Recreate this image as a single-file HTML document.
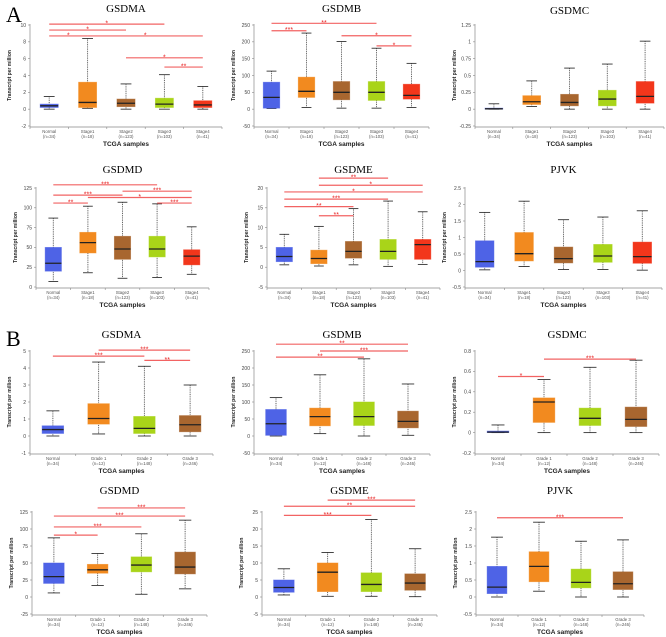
<!DOCTYPE html>
<html><head><meta charset="utf-8"><style>
html,body{margin:0;padding:0;background:#fff;}
svg{display:block;font-family:"Liberation Sans",sans-serif;}
</style></head><body>
<svg id="fig" width="666" height="637" viewBox="0 0 666 637" xmlns="http://www.w3.org/2000/svg">
<text x="6" y="22" font-family="Liberation Serif,serif" font-size="22">A</text>
<text x="6" y="346" font-family="Liberation Serif,serif" font-size="22">B</text>
</svg>
<script>
// categories
const stageCats = ["Normal","Stage1","Stage2","Stage3","Stage4"];
const stageN = ["(n=34)","(n=18)","(n=123)","(n=103)","(n=41)"];
const gradeCats = ["Normal","Grade 1","Grade 2","Grade 3"];
const gradeN = ["(n=34)","(n=12)","(n=148)","(n=246)"];
const stageColors = ["#4e63e6","#f28a1f","#a8662f","#a9d419","#f2361b"];
const gradeColors = ["#4e63e6","#f28a1f","#a9d419","#a8662f"];

// box stats: [min, q1, median, q3, max]
const aGSDMA = [[0,0.2,0.4,0.6,1.5],[0.1,0.2,0.8,3.2,8.4],[0,0.3,0.7,1.2,3.0],[0,0.2,0.6,1.3,4.1],[0,0.2,0.5,1.0,2.7]];
const aGSDMB = [[2,3,35,80,113],[5,35,53,95,226],[3,28,50,82,201],[3,26,50,82,181],[5,30,41,74,136]];
const aGSDMC = [[0,0,0.005,0.015,0.08],[0.04,0.07,0.11,0.2,0.42],[0,0.05,0.1,0.22,0.61],[0,0.05,0.15,0.28,0.67],[0,0.09,0.19,0.41,1.01]];
const aGSDMD = [[7,20,30,50,87],[18,43,56,69,102],[11,35,48,64,107],[12,38,48,64,105],[16,28,39,47,76]];
const aGSDME = [[0.6,1.4,2.7,5,8.3],[0.3,0.9,2.2,4.3,10.3],[0.6,2.3,4,6.5,14.8],[0.2,2,4,7,16.7],[0.7,2,5.7,7,14]];
const aPJVK = [[0.02,0.1,0.27,0.9,1.76],[0.12,0.29,0.51,1.15,2.1],[0.03,0.23,0.36,0.71,1.54],[0.03,0.25,0.44,0.79,1.62],[0.01,0.22,0.42,0.86,1.81]];
const bGSDMA = [[0,0.15,0.38,0.6,1.48],[0.12,0.7,1.03,1.9,4.35],[0,0.15,0.45,1.15,4.1],[0,0.25,0.66,1.2,3.0]];
const bGSDMB = [[0,2,36,78,113],[7,30,57,82,180],[0,31,57,100,227],[2,24,43,73,153]];
const bGSDMC = [[0,0,0.005,0.015,0.075],[0,0.1,0.3,0.34,0.52],[0,0.07,0.14,0.24,0.64],[0,0.06,0.13,0.25,0.71]];
const bGSDMD = [[6,20,30,50,87],[17,35,40,48,64],[4,37,47,59,93],[12,34,44,66,113]];
const bGSDME = [[0.6,1.4,2.8,5,8.3],[0.2,1.6,7.3,10,13.1],[0.2,1.6,3.7,7.1,22.8],[0.1,2,4.1,6.8,14.2]];
const bPJVK = [[0,0.1,0.29,0.9,1.76],[0.17,0.45,0.9,1.33,2.2],[0,0.27,0.43,0.82,1.64],[0,0.22,0.39,0.74,1.68]];

// significance: [fromIdx, toIdx, yValue, label]
const sigAGSDMA = [[0,3,10.1,"*"],[0,2,9.4,"*"],[0,1,8.7,"*"],[1,4,8.7,"*"],[2,4,6.1,"*"],[3,4,5.0,"**"]];
const sigAGSDMB = [[0,3,255,"**"],[0,1,233,"***"],[2,4,218,"*"],[3,4,188,"*"]];
const sigAGSDMC = [];
const sigAGSDMD = [[0,3,129,"***"],[0,2,116,"***"],[0,1,106,"**"],[2,4,121,"***"],[1,4,113,"*"],[3,4,106,"***"]];
const sigAGSDME = [[1,3,22.5,"**"],[1,4,20.7,"*"],[0,4,19,"*"],[0,3,17.2,"***"],[0,2,15.3,"**"],[1,2,13,"**"]];
const sigAPJVK = [];
const sigBGSDMA = [[1,3,5.05,"***"],[0,2,4.7,"***"],[2,3,4.45,"**"]];
const sigBGSDMB = [[0,3,270,"**"],[1,3,250,"***"],[0,2,232,"**"]];
const sigBGSDMC = [[0,1,0.55,"*"],[1,3,0.72,"***"]];
const sigBGSDMD = [[1,3,131,"***"],[0,3,119,"***"],[0,2,103,"***"],[0,1,91,"*"]];
const sigBGSDME = [[1,3,28.5,"***"],[0,3,26.7,"**"],[0,2,24,"***"]];
const sigBPJVK = [[0,3,2.33,"***"]];

// y tick labels
const tGSDMA_A = ["-2","0","2","4","6","8","10"];
const tGSDMB = ["-50","0","50","100","150","200","250"];
const tGSDMC_A = ["-0.25","0","0.25","0.5","0.75","1","1.25"];
const tGSDMD_A = ["0","25","50","75","100","125"];
const tGSDME_A = ["-5","0","5","10","15","20"];
const tPJVK = ["-0.5","0","0.5","1","1.5","2","2.5"];
const tGSDMA_B = ["-1","0","1","2","3","4","5"];
const tGSDMC_B = ["-0.2","0","0.2","0.4","0.6","0.8"];
const tGSDMD_B = ["-25","0","25","50","75","100","125"];
const tGSDME_B = ["-5","0","5","10","15","20","25"];

const NS="http://www.w3.org/2000/svg";
const svg=document.getElementById('fig');
function mk(tag,attrs,parent){const e=document.createElementNS(NS,tag);for(const k in attrs)e.setAttribute(k,attrs[k]);(parent||svg).appendChild(e);return e;}

function panel(p){
  const g=mk('g',{});
  
  
  const ticks=p.ticks.map(Number);
  const ymin=ticks[0], ymax=ticks[ticks.length-1];
  const Y=v=>p.yb-(v-ymin)/(ymax-ymin)*(p.yb-p.yt);
  const n=p.cats.length, band=(p.x1-p.x0)/n;
  const X=i=>p.x0+band*(i+0.5);
  const axB=p.yb+1;
  const t=mk('text',{x:(p.x0+p.x1)/2,y:p.ty,'text-anchor':'middle','font-family':'Liberation Serif,serif','font-size':11},g);
  t.textContent=p.title;
  
  
  const ya=mk('line',{x1:p.x0,y1:Y(ymax)-1,x2:p.x0,y2:axB,stroke:'#888','stroke-width':0.7},g);
  
  
  const xa=mk('line',{x1:p.x0,y1:axB,x2:p.x1,y2:axB,stroke:'#888','stroke-width':0.7},g);
  
  
  p.ticks.forEach((lab,i)=>{
    const y=Y(ticks[i]);
    mk('line',{x1:p.x0-2,y1:y,x2:p.x0,y2:y,stroke:'#888','stroke-width':0.6},g);
    const tl=mk('text',{x:p.x0-4,y:y+1.8,'text-anchor':'end','font-size':5,fill:'#444'},g);
    tl.textContent=lab;
    
    
  });
  for(let i=0;i<=n;i++){mk('line',{x1:p.x0+band*i,y1:axB,x2:p.x0+band*i,y2:axB+2,stroke:'#888','stroke-width':0.6},g);}
  const yt=mk('text',{x:0,y:0,'text-anchor':'middle','font-size':5,'font-weight':'bold',fill:'#222',transform:`translate(${p.x0-19},${(Y(ymax)+p.yb)/2}) rotate(-90)`},g);
  yt.textContent='Transcript per million';
  
  
  const xt=mk('text',{x:(p.x0+p.x1)/2,y:axB+19,'text-anchor':'middle','font-size':6.5,'font-weight':'bold',fill:'#222'},g);
  xt.textContent='TCGA samples';
  
  
  p.data.forEach((d,i)=>{
    const cx=X(i), w=band*0.47;
    const bg=mk('g',{},g);
    
    
    mk('line',{x1:cx,y1:Y(d[4]),x2:cx,y2:Y(d[0]),stroke:'#555','stroke-width':0.9,'stroke-dasharray':'1,0.8'},bg);
    mk('line',{x1:cx-w*0.3,y1:Y(d[4]),x2:cx+w*0.3,y2:Y(d[4]),stroke:'#333','stroke-width':0.9},bg);
    mk('line',{x1:cx-w*0.3,y1:Y(d[0]),x2:cx+w*0.3,y2:Y(d[0]),stroke:'#333','stroke-width':0.9},bg);
    const h=Math.max(Y(d[1])-Y(d[3]),1);
    mk('rect',{x:cx-w/2,y:Y(d[3]),width:w,height:h,fill:p.colors[i],stroke:p.colors[i],'stroke-opacity':0.6,'stroke-width':0.8},bg);
    mk('line',{x1:cx-w/2,y1:Y(d[2]),x2:cx+w/2,y2:Y(d[2]),stroke:'#222','stroke-width':1.3},bg);
    const c1=mk('text',{x:cx,y:axB+6,'text-anchor':'middle','font-size':4.3,fill:'#555'},g);
    c1.textContent=p.cats[i];
    
    
    const c2=mk('text',{x:cx,y:axB+11,'text-anchor':'middle','font-size':4.3,fill:'#555'},g);
    c2.textContent=p.ns[i];
    
    
  });
  p.sig.forEach(s=>{
    const y=Y(s[2]), xa1=X(s[0]), xb=X(s[1]);
    const sl=mk('line',{x1:xa1,y1:y,x2:xb,y2:y,stroke:'#f04848','stroke-width':1.2,'stroke-opacity':0.85},g);
    
    
    const st=mk('text',{x:(xa1+xb)/2,y:y+1.5,'text-anchor':'middle','font-size':7,fill:'#e82020'},g);
    st.textContent=s[3];
    
    
  });
}

const S={cats:stageCats,ns:stageN,colors:stageColors};
const G={cats:gradeCats,ns:gradeN,colors:gradeColors};
panel({...S,name:'a-gsdma-chart',title:'GSDMA',x0:30,x1:222,yt:25,yb:126,ty:12,ticks:tGSDMA_A,data:aGSDMA,sig:sigAGSDMA});
panel({...S,name:'a-gsdmb-chart',title:'GSDMB',x0:254,x1:429,yt:25,yb:126,ty:12,ticks:tGSDMB,data:aGSDMB,sig:sigAGSDMB});
panel({...S,name:'a-gsdmc-chart',title:'GSDMC',x0:475,x1:664,yt:25,yb:126,ty:14,ticks:tGSDMC_A,data:aGSDMC,sig:sigAGSDMC});
panel({...S,name:'a-gsdmd-chart',title:'GSDMD',x0:36,x1:209,yt:188,yb:287,ty:173,ticks:tGSDMD_A,data:aGSDMD,sig:sigAGSDMD});
panel({...S,name:'a-gsdme-chart',title:'GSDME',x0:267,x1:440,yt:188,yb:287,ty:173,ticks:tGSDME_A,data:aGSDME,sig:sigAGSDME});
panel({...S,name:'a-pjvk-chart',title:'PJVK',x0:465,x1:662,yt:188,yb:287,ty:173,ticks:tPJVK,data:aPJVK,sig:sigAPJVK});
panel({...G,name:'b-gsdma-chart',title:'GSDMA',x0:30,x1:213,yt:351,yb:453,ty:338,ticks:tGSDMA_B,data:bGSDMA,sig:sigBGSDMA});
panel({...G,name:'b-gsdmb-chart',title:'GSDMB',x0:254,x1:430,yt:351,yb:453,ty:338,ticks:tGSDMB,data:bGSDMB,sig:sigBGSDMB});
panel({...G,name:'b-gsdmc-chart',title:'GSDMC',x0:475,x1:659,yt:351,yb:453,ty:338,ticks:tGSDMC_B,data:bGSDMC,sig:sigBGSDMC});
panel({...G,name:'b-gsdmd-chart',title:'GSDMD',x0:32,x1:207,yt:512,yb:614,ty:494,ticks:tGSDMD_B,data:bGSDMD,sig:sigBGSDMD});
panel({...G,name:'b-gsdme-chart',title:'GSDME',x0:262,x1:437,yt:512,yb:614,ty:494,ticks:tGSDME_B,data:bGSDME,sig:sigBGSDME});
panel({...G,name:'b-pjvk-chart',title:'PJVK',x0:476,x1:644,yt:512,yb:614,ty:494,ticks:tPJVK,data:bPJVK,sig:sigBPJVK});
</script>
</body></html>
